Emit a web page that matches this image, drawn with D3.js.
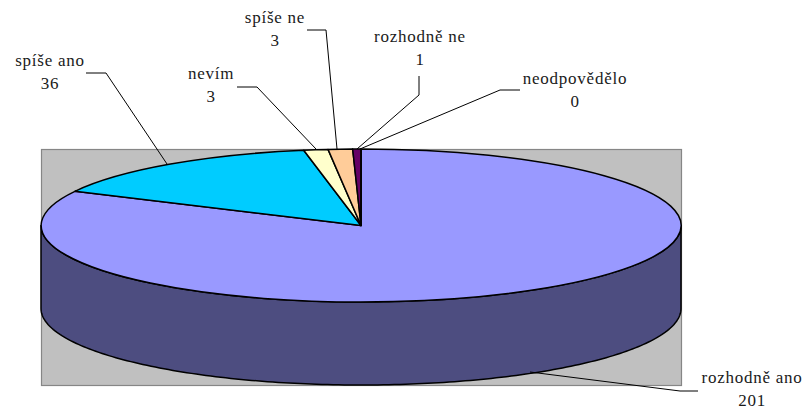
<!DOCTYPE html>
<html>
<head>
<meta charset="utf-8">
<script src="https://cdn.jsdelivr.net/npm/d3@7"></script>
<style>
  html, body { margin: 0; background: #fff; }
  svg { display: block; }
  text { font-family: "Liberation Serif", serif; font-size: 17px; fill: #1a1a1a; text-anchor: middle; letter-spacing: 0.75px; }
</style>
</head>
<body>
<svg></svg>
<script>
'use strict';

//the chart's values, clockwise from 12 o'clock
var categories = ['rozhodně ano', 'spíše ano', 'nevím', 'spíše ne', 'rozhodně ne', 'neodpovědělo'];
var values = [201, 36, 3, 3, 1, 0];

var colors = d3.scaleOrdinal()
  .domain(categories)
  .range(['#9999ff', '#00ccff', '#ffffcc', '#ffcc99', '#660066', '#ff8080']);

var SVG_SIZE = {width: 807, height: 409};
var PLOT = {left: 41.5, right: 681.5, top: 149.5, bottom: 385.5};
var PIE = {left: 41, right: 681, top: 149, bottom: 302, depth: 83};

//label text position (centre of first line) and the leader line for each slice
var labelLayout = [
  {x: 752, y: 383, leader: [[698, 391], [680, 391], [530, 372]]},
  {x: 50, y: 66, leader: [[86, 73], [106, 73], [167, 164]]},
  {x: 211, y: 79, leader: [[237, 87], [257, 87], [316, 149]]},
  {x: 275, y: 23, leader: [[307, 30], [326, 30], [337, 149]]},
  {x: 420, y: 42, leader: [[419, 76], [419, 95], [357, 149]]},
  {x: 575, y: 84, leader: [[520, 90], [500, 90], [360, 149]]}
];

var svg = d3.select('svg')
  .attr('width', SVG_SIZE.width).attr('height', SVG_SIZE.height);

//the pie is a unit circle squashed into an ellipse by these two scales
var xScale = d3.scaleLinear().domain([-1, 1]).range([PIE.left, PIE.right]);
var yScale = d3.scaleLinear().domain([-1, 1]).range([PIE.top, PIE.bottom]);

svg.append('rect')
  .attr('x', PLOT.left).attr('y', PLOT.top)
  .attr('width', PLOT.right - PLOT.left).attr('height', PLOT.bottom - PLOT.top)
  .attr('fill', '#c0c0c0')
  .attr('stroke', '#868686')
  .attr('stroke-width', 1.2);

//side wall: lower half of the rim, then back along the same half pushed down
var rim = d3.range(90, 270.5, 1).map(function(deg) {
  var a = deg * Math.PI / 180;
  return [xScale(Math.sin(a)), yScale(-Math.cos(a))];
});
var wall = rim.concat(rim.slice().reverse().map(function(p) {
  return [p[0], p[1] + PIE.depth];
}));

svg.append('path')
  .attr('d', d3.line()(wall) + 'Z')
  .attr('fill', '#4d4d80')
  .attr('stroke', '#000')
  .attr('stroke-width', 1.5)
  .attr('stroke-linejoin', 'round');

var pie = d3.pie().sort(null);
var arc = d3.arc().innerRadius(0).outerRadius(1);

var pieTop = svg.append('g')
  .attr('transform', 'translate(' + xScale(0) + ',' + yScale(0) + ') scale(' + (xScale(1) - xScale(0)) + ',' + (yScale(1) - yScale(0)) + ')');

pieTop.selectAll('path').data(pie(values))
  .enter().append('path')
  .attr('d', arc)
  .attr('fill', function(d, i) { return colors(categories[i]); })
  .attr('stroke', '#000')
  .attr('stroke-width', 1.5)
  .attr('stroke-linejoin', 'round')
  .attr('vector-effect', 'non-scaling-stroke');

//leader lines
svg.selectAll('.leader').data(labelLayout)
  .enter().append('path')
  .attr('class', 'leader')
  .attr('d', function(d) { return d3.line()(d.leader); })
  .attr('fill', 'none')
  .attr('stroke', '#000')
  .attr('stroke-width', 1);

//two line labels: category, then value
var labels = svg.selectAll('.label').data(labelLayout)
  .enter().append('text')
  .attr('class', 'label')
  .attr('y', function(d) { return d.y; });

labels.append('tspan')
  .attr('x', function(d) { return d.x; })
  .text(function(d, i) { return categories[i]; });

labels.append('tspan')
  .attr('x', function(d) { return d.x; })
  .attr('dy', 23)
  .text(function(d, i) { return values[i]; });
</script>
</body>
</html>
